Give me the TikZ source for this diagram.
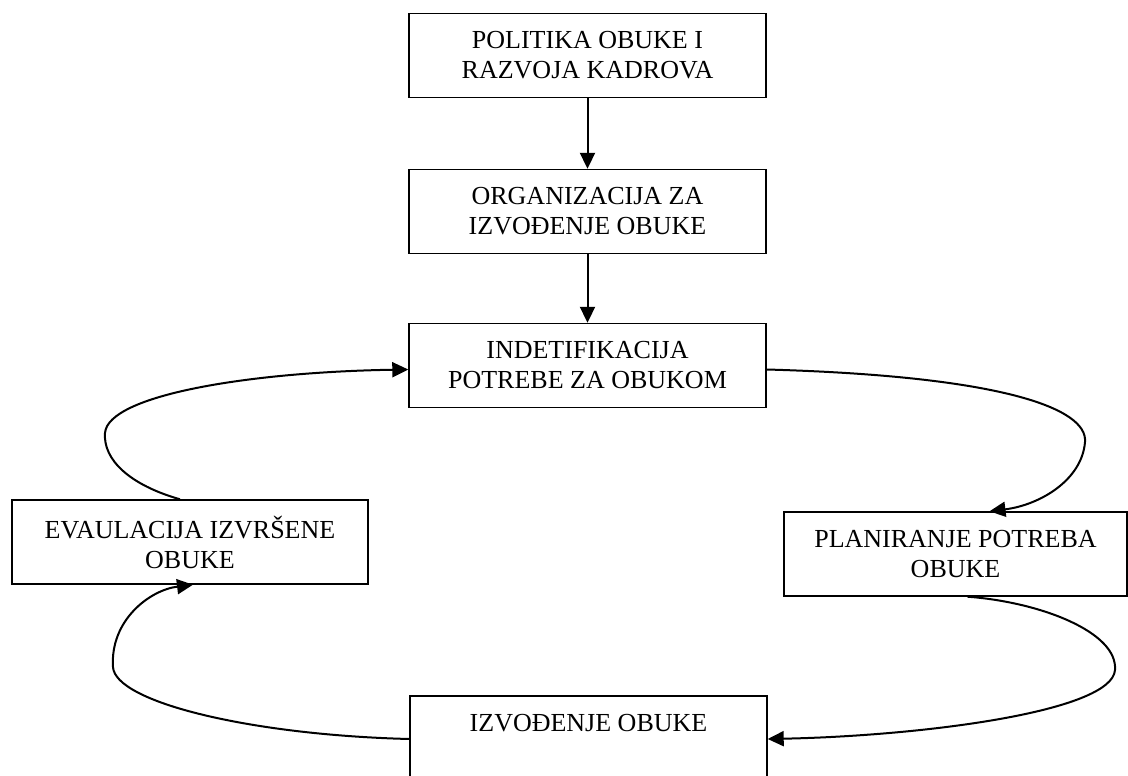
\documentclass[tikz,border=0pt]{standalone}
\usepackage{fontspec}
\setmainfont{Liberation Serif}
\usepackage{tikz}
\usetikzlibrary{arrows.meta, positioning}

\tikzset{
  stage/.style={draw, line width=1.4pt, rectangle, align=center, inner sep=0pt,
    minimum height=84pt, font=\fontsize{26}{30}\selectfont},
  flow/.style={-{Triangle[length=16pt,width=15pt]}, line width=2pt},
}

\begin{document}
\begin{tikzpicture}[x=1pt, y=-1pt]
    \useasboundingbox (0,0) rectangle (1128,776);
    % boxes
    \node[stage, minimum width=357pt] (politika) at (587.5,55.5) {POLITIKA OBUKE I\\RAZVOJA KADROVA};
    \node[stage, minimum width=357pt] (organizacija) at (587.5,211.5) {ORGANIZACIJA ZA\\IZVOĐENJE OBUKE};
    \node[stage, minimum width=357pt] (identifikacija) at (587.5,365.5) {INDETIFIKACIJA\\POTREBE ZA OBUKOM};
    \node[stage, minimum width=343pt] (planiranje) at (955.5,554) {PLANIRANJE POTREBA\\OBUKE};
    \node[stage, minimum width=357pt] (izvodjenje) at (588.5,738) {IZVOĐENJE OBUKE\\\mbox{}};
    \node[stage, minimum width=356pt] (evaluacija) at (190,542) {EVAULACIJA IZVRŠENE\\OBUKE};
    % straight arrows
    \draw[flow] (politika) -- (organizacija);
    \draw[flow] (organizacija) -- (identifikacija);
    % cycle
    \draw[flow] ([yshift=-4pt]identifikacija.east) .. controls (1000,376) and (1088,408) .. (1085,442)
        .. controls (1082,480) and (1040,505) .. ([xshift=34pt]planiranje.north);
    \draw[flow] ([xshift=12pt]planiranje.south) .. controls (1040,602) and (1118,632) .. (1115,670)
        .. controls (1112,712) and (920,736) .. ([yshift=-1pt]izvodjenje.east);
    \draw[flow] ([yshift=-1pt]izvodjenje.west) .. controls (250,735) and (115,702) .. (113,667)
        .. controls (110,620) and (150,590) .. ([xshift=3pt]evaluacija.south);
    \draw[flow] ([xshift=-10pt]evaluacija.north) .. controls (130,485) and (103,460) .. (105,433)
        .. controls (108,395) and (250,372) .. ([yshift=-4pt]identifikacija.west);
\end{tikzpicture}
\end{document}
